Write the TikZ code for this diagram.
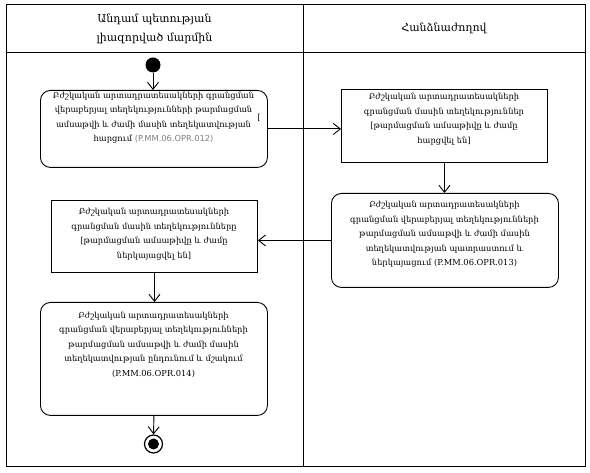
\documentclass[tikz,border=0pt]{standalone}
\usepackage{fontspec}
\setmainfont{DejaVu Serif}
\newfontfamily\codefont{DejaVu Sans}
\usetikzlibrary{arrows.meta}
\begin{document}
\begin{tikzpicture}[x=1pt,y=-1pt, line width=0.9pt,
  act/.style={draw, rounded corners=10pt, anchor=north west, inner sep=0},
  obj/.style={draw, anchor=north west, inner sep=0},
  txt/.style={align=center, font=\fontsize{8.3}{14.5}\selectfont, inner sep=0},
  head/.style={align=center, font=\fontsize{11}{19}\selectfont, inner sep=0},
  flow/.style={-{Straight Barb[length=7pt,width=11pt]}}]
\useasboundingbox (0,0) rectangle (590,473);
% frame and lanes
\draw (6,4) rectangle (585,466);
\draw (6,52) -- (585,52);
\draw (303,4) -- (303,466);
\node[head] (h1) at (154.5,28.5) {Անդամ պետության\\լիազորված մարմին};
\node[head] (h2) at (444,28) {Հանձնաժողով};
% start / end
\node[circle, fill, minimum size=15pt, inner sep=0] (start) at (153,65) {};
\node[circle, draw, line width=1.2pt, minimum size=18pt, inner sep=0] (end) at (153.5,444) {};
\node[circle, fill, minimum size=11pt, inner sep=0] (endin) at (end) {};
% boxes
\node[act, minimum width=227pt, minimum height=77pt] (b1) at (40,90) {};
\node[obj, minimum width=206pt, minimum height=73pt] (b2) at (341,89) {};
\node[act, minimum width=227pt, minimum height=94pt] (b3) at (331,193) {};
\node[obj, minimum width=206pt, minimum height=72pt] (b4) at (51,200) {};
\node[act, minimum width=227pt, minimum height=113pt] (b5) at (40,302) {};
% texts
\node[txt] (t1) at (153.5,117.5) {Բժշկական արտադրատեսակների գրանցման\\վերաբերյալ տեղեկությունների թարմացման\\ամսաթվի և ժամի մասին տեղեկատվության\\հարցում {\codefont\color{gray}(P.MM.06.OPR.012)}};
\node[txt] (t2) at (444,119) {Բժշկական արտադրատեսակների\\գրանցման մասին տեղեկություններ\\{[}թարմացման ամսաթիվը և ժամը\\հարցվել են{]}};
\node[txt] (t3) at (444.5,234.5) {Բժշկական արտադրատեսակների\\գրանցման վերաբերյալ տեղեկությունների\\թարմացման ամսաթվի և ժամի մասին\\տեղեկատվության պատրաստում և\\ներկայացում (P.MM.06.OPR.013)};
\node[txt] (t4) at (154,234) {Բժշկական արտադրատեսակների\\գրանցման մասին տեղեկությունները\\{[}թարմացման ամսաթիվը և ժամը\\ներկայացվել են{]}};
\node[txt] (t5) at (153.5,344.5) {Բժշկական արտադրատեսակների\\գրանցման վերաբերյալ տեղեկությունների\\թարմացման ամսաթվի և ժամի մասին\\տեղեկատվության ընդունում և մշակում\\(P.MM.06.OPR.014)};
\node[txt] (stray) at (259,118) {[};
% connectors
\draw[flow] (start) -- (start |- b1.north);
\draw[flow] (b1.east) -- (b1.east -| b2.west);
\draw[flow] (b2.south) -- (b2.south |- b3.north);
\draw[flow] (b3.west) -- (b3.west -| b4.east);
\draw[flow] (b4.south) -- (b4.south |- b5.north);
\draw[flow] (b5.south) -- (end.north);
\end{tikzpicture}
\end{document}
